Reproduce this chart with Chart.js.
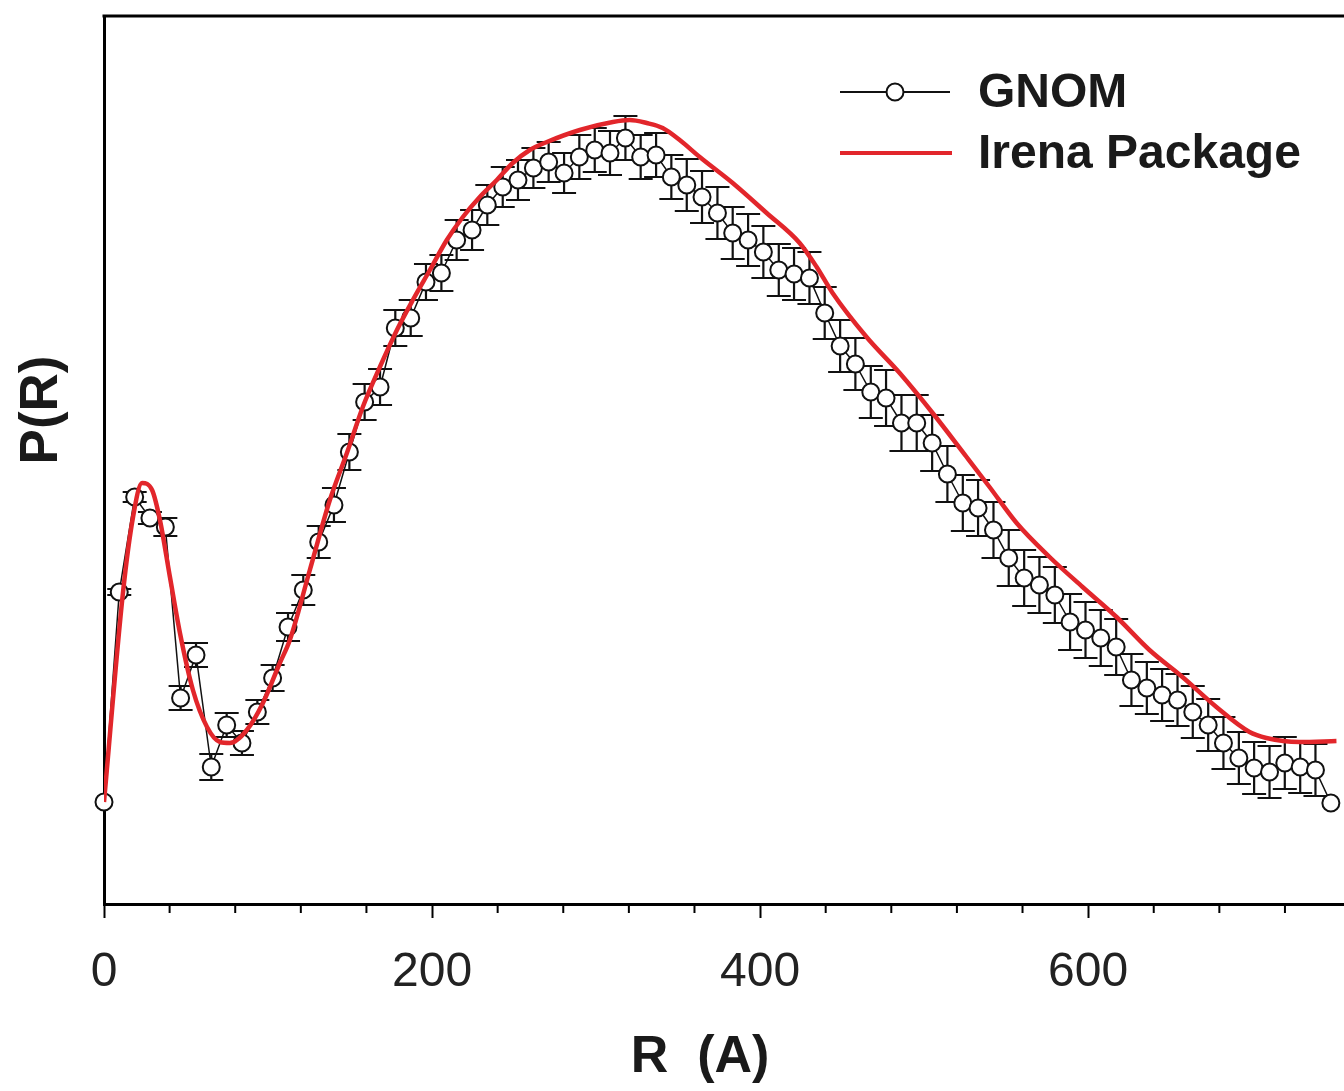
<!DOCTYPE html>
<html>
<head>
<meta charset="utf-8">
<title>P(R)</title>
<script src="https://cdn.jsdelivr.net/npm/chart.js@4.4.1/dist/chart.umd.min.js"></script>
<style>
    body { margin: 0; background: #fff; }
    #chartBox { width: 1344px; height: 1091px; }
</style>
</head>
<body>
<div id="chartBox">
    <canvas id="myChart" width="1344" height="1091"></canvas>
</div>
<script>
// GNOM points (arbitrary P(R) units)
const gnomR = [0, 9.3, 18.7, 28.0, 37.4, 46.7, 56.1, 65.4, 74.8, 84.1, 93.5, 102.8, 112.2, 121.5, 130.9, 140.2,
    149.6, 158.9, 168.3, 177.6, 187.0, 196.3, 205.7, 215.0, 224.4, 233.7, 243.1, 252.4, 261.8, 271.1, 280.5,
    289.8, 299.2, 308.5, 317.9, 327.2, 336.6, 345.9, 355.3, 364.6, 374.0, 383.3, 392.7, 402.0, 411.4, 420.7,
    430.1, 439.4, 448.8, 458.1, 467.5, 476.8, 486.2, 495.5, 504.9, 514.2, 523.6, 532.9, 542.3, 551.6, 561.0,
    570.3, 579.7, 589.0, 598.4, 607.7, 617.1, 626.4, 635.8, 645.1, 654.5, 663.8, 673.2, 682.5, 691.9, 701.2,
    710.6, 719.9, 729.3, 738.6, 748.0];
const gnomP = [10.2, 31.2, 40.7, 38.6, 37.7, 20.6, 24.9, 13.7, 17.9, 16.1, 19.2, 22.6, 27.7, 31.4, 36.2, 39.9,
    45.2, 50.2, 51.7, 57.6, 58.6, 62.2, 63.1, 66.4, 67.4, 69.9, 71.7, 72.4, 73.6, 74.2, 73.1,
    74.7, 75.4, 75.1, 76.6, 74.7, 74.9, 72.7, 71.9, 70.7, 69.1, 67.1, 66.4, 65.2, 63.4, 63.0,
    62.6, 59.1, 55.8, 54.0, 51.2, 50.6, 48.1, 48.1, 46.1, 43.0, 40.1, 39.6, 37.4, 34.6, 32.6,
    31.9, 30.9, 28.2, 27.4, 26.6, 25.7, 22.4, 21.6, 20.9, 20.4, 19.2, 17.9, 16.1, 14.6, 13.6,
    13.2, 14.1, 13.7, 13.4, 10.1];
const gnomErr = [0, 0.3, 0.5, 0.6, 0.9, 1.2, 1.2, 1.3, 1.2, 1.2, 1.2, 1.3, 1.4, 1.5, 1.6, 1.7,
    1.8, 1.8, 1.8, 1.8, 1.8, 1.8, 1.8, 2.0, 2.0, 2.0, 2.0, 2.0, 2.0, 2.0, 2.0,
    2.2, 2.2, 2.2, 2.2, 2.2, 2.2, 2.2, 2.6, 2.6, 2.6, 2.6, 2.6, 2.6, 2.6, 2.6,
    2.6, 2.6, 2.6, 2.6, 2.6, 2.8, 2.8, 2.8, 2.8, 2.8, 2.8, 2.8, 2.8, 2.8, 2.8,
    2.8, 2.8, 2.8, 2.8, 2.8, 2.8, 2.6, 2.6, 2.6, 2.6, 2.6, 2.6, 2.6, 2.6, 2.6,
    2.6, 2.6, 2.6, 2.6, 0];

// Irena Package fit curve
const irenaR = [0, 11.6, 17.7, 23.2, 29.3, 34.1, 40.2, 46.3, 54.2, 62.8, 70.7, 76.8, 87.1, 96.9, 107.2, 113.3,
    125.5, 137.7, 148.1, 157.8, 168.2, 178.6, 188.3, 198.7, 209.0, 218.8, 229.1, 239.5, 249.2, 259.6,
    270.0, 290.1, 310.2, 320.5, 330.9, 340.6, 351.0, 363.2, 383.3, 404.0, 424.1, 434.5, 444.2, 464.9,
    485.1, 505.2, 525.9, 539.9, 556.4, 576.5, 596.6, 617.3, 637.4, 657.5, 678.2, 698.4, 708.7, 728.8, 751.4];
const irenaP = [10.2, 31.2, 38.7, 42.1, 41.4, 38.4, 32.7, 27.1, 21.4, 17.7, 16.2, 16.1, 17.4, 20.1, 24.1, 26.4,
    33.4, 40.4, 45.1, 49.7, 53.7, 57.4, 60.4, 63.4, 66.4, 68.7, 70.7, 72.4, 74.1, 75.4,
    76.2, 77.4, 78.2, 78.4, 78.1, 77.6, 76.4, 74.7, 72.1, 69.1, 66.1, 63.7, 61.1, 56.7,
    53.1, 49.1, 44.7, 41.7, 38.1, 34.7, 31.7, 28.7, 25.4, 22.7, 19.7, 17.2, 16.6, 16.2, 16.3];

const seriesLabels = ['GNOM', 'Irena Package'];
const xMin = 0;
const xMax = 756;
const yMin = 0;
const yMax = 88.8;

const gnomData = gnomR.map((r, i) => ({ x: r, y: gnomP[i] }));
const irenaData = irenaR.map((r, i) => ({ x: r, y: irenaP[i] }));

const fontFamily = '"Liberation Sans", Arial, Helvetica, sans-serif';
const red = '#e2262b';

// error bars, minor ticks, top frame line, titles and legend
const extras = {
    id: 'extras',
    beforeDatasetsDraw(chart) {
        const ctx = chart.ctx;
        const xs = chart.scales.x;
        const ys = chart.scales.y;
        ctx.save();
        ctx.strokeStyle = '#111';
        ctx.lineWidth = 2.2;
        for (let i = 0; i < gnomR.length; i++) {
            if (!gnomErr[i]) continue;
            const px = xs.getPixelForValue(gnomR[i]);
            const top = ys.getPixelForValue(gnomP[i] + gnomErr[i]);
            const bot = ys.getPixelForValue(gnomP[i] - gnomErr[i]);
            ctx.beginPath();
            ctx.moveTo(px, top);
            ctx.lineTo(px, bot);
            ctx.moveTo(px - 12, top);
            ctx.lineTo(px + 12, top);
            ctx.moveTo(px - 12, bot);
            ctx.lineTo(px + 12, bot);
            ctx.stroke();
        }
        ctx.restore();
    },
    afterDraw(chart) {
        const ctx = chart.ctx;
        const area = chart.chartArea;
        const xs = chart.scales.x;
        ctx.save();

        // top frame
        ctx.strokeStyle = '#000';
        ctx.lineWidth = 3;
        ctx.beginPath();
        ctx.moveTo(area.left - 1.5, area.top);
        ctx.lineTo(chart.width, area.top);
        ctx.stroke();

        // minor ticks
        ctx.lineWidth = 2;
        for (let v = 40; v < xMax; v += 40) {
            if (v % 200 === 0) continue;
            const px = xs.getPixelForValue(v);
            ctx.beginPath();
            ctx.moveTo(px, area.bottom);
            ctx.lineTo(px, area.bottom + 9);
            ctx.stroke();
        }

        // axis titles
        ctx.fillStyle = '#1a1a1a';
        ctx.textAlign = 'center';
        ctx.textBaseline = 'middle';
        ctx.font = 'bold 52px ' + fontFamily;
        ctx.fillText('R  (A)', 700, 1058);
        ctx.save();
        ctx.translate(42, 410);
        ctx.rotate(-Math.PI / 2);
        ctx.font = 'bold 53px ' + fontFamily;
        ctx.fillText('P(R)', 0, 0);
        ctx.restore();

        // legend
        ctx.textAlign = 'left';
        ctx.font = 'bold 48px ' + fontFamily;
        ctx.strokeStyle = '#111';
        ctx.lineWidth = 2;
        ctx.beginPath();
        ctx.moveTo(840, 92);
        ctx.lineTo(950, 92);
        ctx.stroke();
        ctx.beginPath();
        ctx.arc(895, 92, 8.5, 0, Math.PI * 2);
        ctx.fillStyle = '#fff';
        ctx.fill();
        ctx.stroke();
        ctx.fillStyle = '#1a1a1a';
        ctx.fillText(chart.data.datasets[0].label, 978, 94);

        ctx.strokeStyle = red;
        ctx.lineWidth = 4;
        ctx.beginPath();
        ctx.moveTo(840, 153);
        ctx.lineTo(952, 153);
        ctx.stroke();
        ctx.fillText(chart.data.datasets[1].label, 978, 155);

        ctx.restore();
    }
};

const ctx = document.getElementById('myChart').getContext('2d');
const myChart = new Chart(ctx, {
    type: 'line',
    data: {
        datasets: [{
            label: seriesLabels[0],
            data: gnomData,
            borderColor: '#111',
            borderWidth: 1.5,
            pointRadius: 8.5,
            pointBorderWidth: 2,
            pointBackgroundColor: '#fff',
            pointBorderColor: '#111',
            tension: 0,
            clip: false,
            order: 1
        }, {
            label: seriesLabels[1],
            data: irenaData,
            borderColor: red,
            borderWidth: 4.5,
            pointRadius: 0,
            cubicInterpolationMode: 'monotone',
            order: 0
        }]
    },
    options: {
        responsive: false,
        animation: false,
        layout: { autoPadding: false, padding: { top: 16, right: 0, left: 0, bottom: 0 } },
        plugins: {
            legend: { display: false },
            tooltip: { enabled: false }
        },
        scales: {
            x: {
                type: 'linear',
                min: xMin,
                max: xMax,
                grid: {
                    display: true,
                    drawOnChartArea: false,
                    drawTicks: true,
                    tickLength: 14,
                    tickWidth: 2,
                    tickColor: (c) => (c.tick && c.tick.value % 200 === 0) ? '#000' : 'rgba(0,0,0,0)'
                },
                border: { display: true, width: 3, color: '#000' },
                ticks: {
                    stepSize: 40,
                    autoSkip: false,
                    includeBounds: false,
                    maxRotation: 0,
                    padding: 26,
                    color: '#222',
                    font: { family: fontFamily, size: 48 },
                    callback: (v) => (v % 200 === 0 ? String(v) : '')
                },
                afterFit: (scale) => { scale.height = 187; }
            },
            y: {
                type: 'linear',
                min: yMin,
                max: yMax,
                grid: { display: false },
                border: { display: true, width: 3, color: '#000' },
                ticks: { display: false },
                afterFit: (scale) => { scale.width = 104; }
            }
        }
    },
    plugins: [extras]
});
</script>
</body>
</html>
